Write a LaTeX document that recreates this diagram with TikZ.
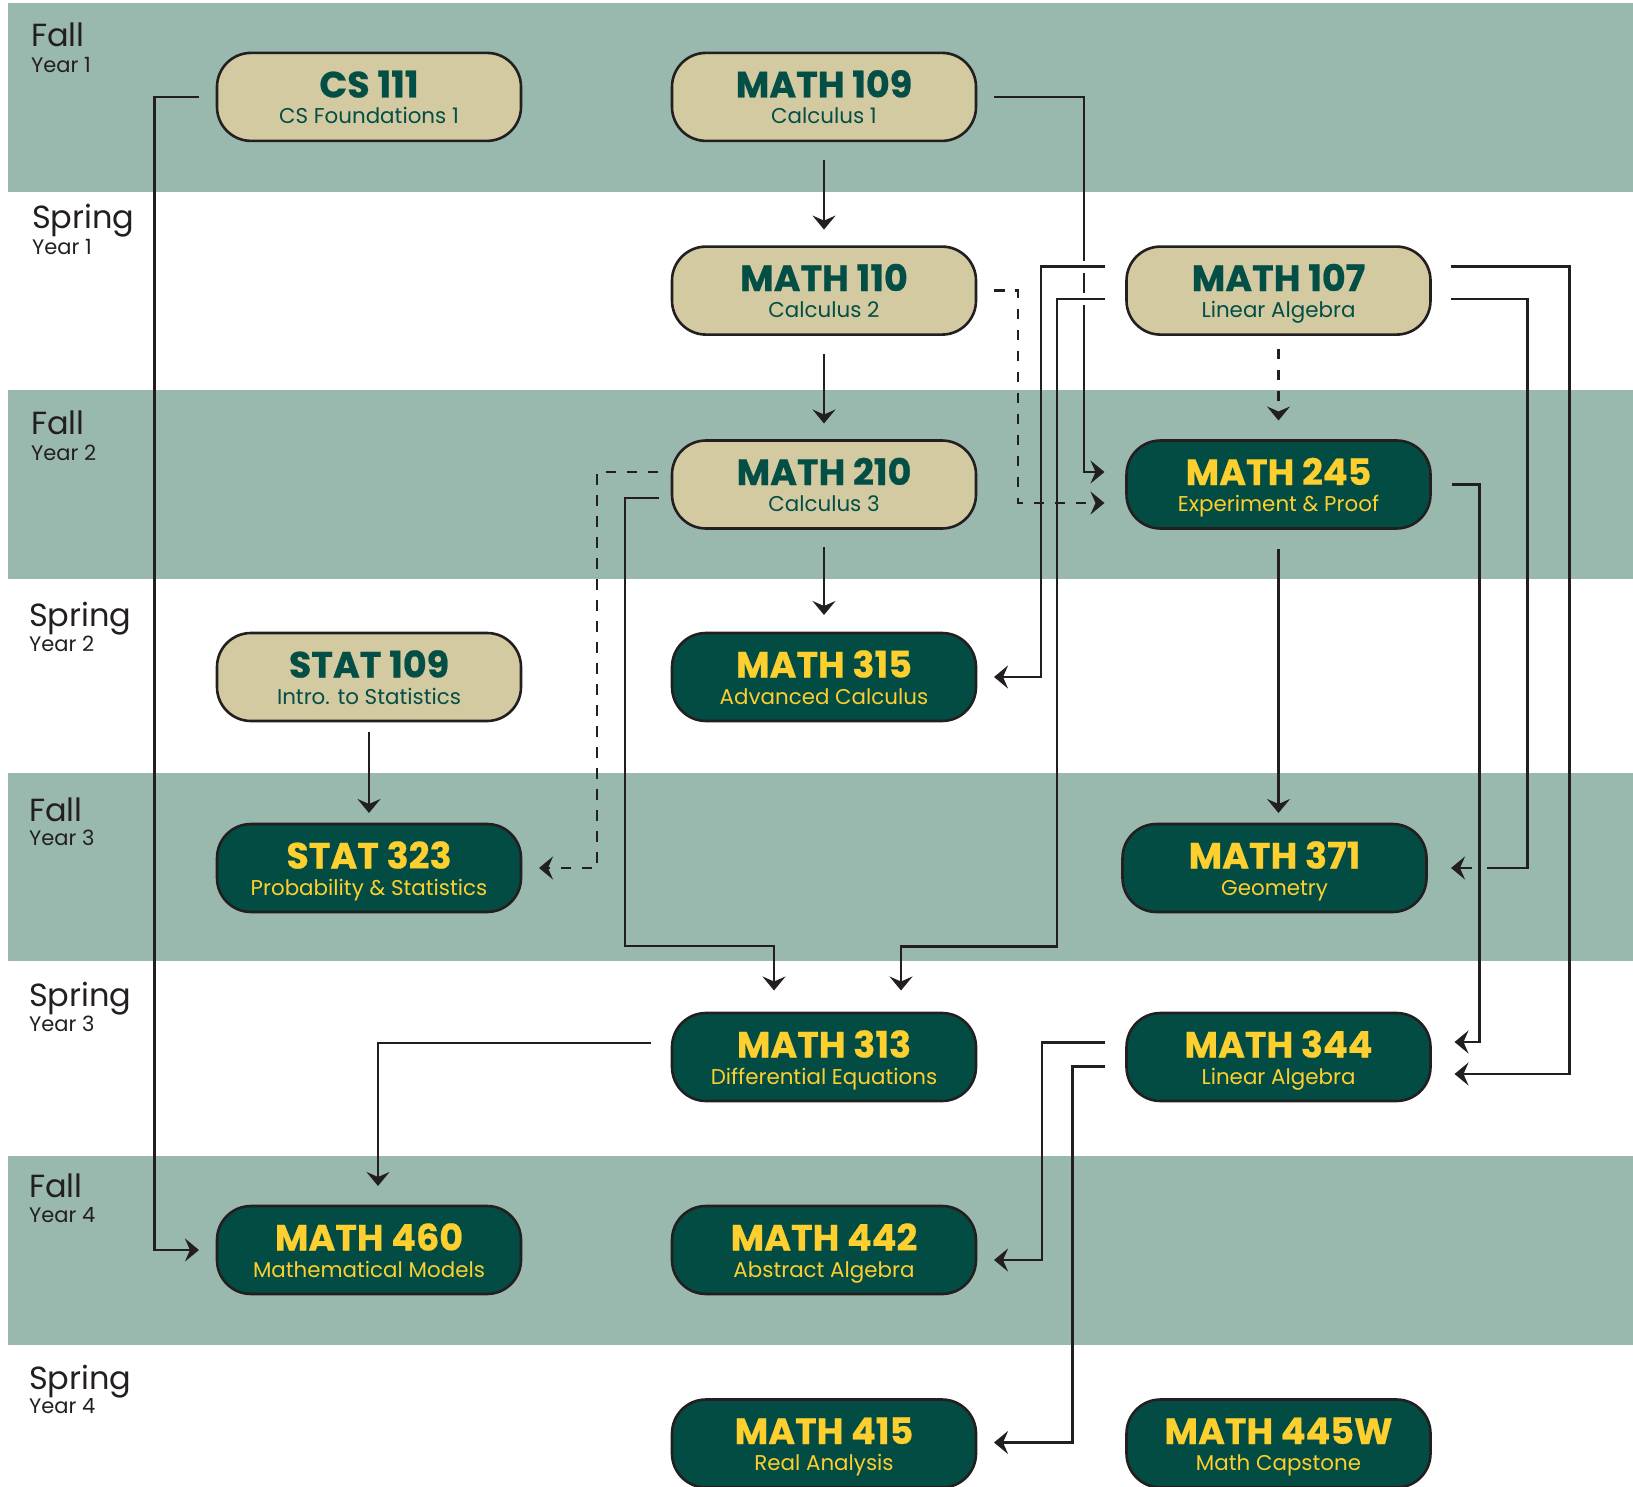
\documentclass[tikz,border=0pt]{standalone}
\usepackage{fontspec}
\setmainfont{Poppins}
\usetikzlibrary{arrows.meta,calc}
\definecolor{band}{HTML}{9AB9AE}
\definecolor{tanfill}{HTML}{D3CAA1}
\definecolor{tealfill}{HTML}{024C44}
\definecolor{tealtext}{HTML}{034E45}
\definecolor{yel}{HTML}{FDCF2F}
\definecolor{ink}{HTML}{231F20}
\newcommand\crs[6]{%
  \node[#2box] (#1) at (#3,#4) {};
  \node[#2ttl] at ($(#1.center)+(0,0.5)$) {#5};
  \node[#2sub] at ($(#1.center)+(0,27)$) {#6};
}
\begin{document}
\begin{tikzpicture}[x=1pt,y=-1pt,
  crsbox/.style={draw=ink, line width=2.6pt, rounded corners=34pt,
    minimum width=304pt, minimum height=88pt, inner sep=0pt, outer sep=0pt},
  lbox/.style={crsbox, fill=tanfill},
  dbox/.style={crsbox, fill=tealfill},
  ttlbase/.style={anchor=base, inner sep=0pt, font=\fontsize{36.5}{40}\selectfont\bfseries\addfontfeatures{FakeBold=0.6}},
  subbase/.style={anchor=base, inner sep=0pt, font=\fontsize{21.4}{24}\selectfont},
  lttl/.style={ttlbase, text=tealtext},
  dttl/.style={ttlbase, text=yel},
  lsub/.style={subbase, text=tealtext},
  dsub/.style={subbase, text=yel},
  season/.style={anchor=base west, inner sep=0pt, text=ink, font=\fontsize{32}{34}\selectfont},
  yr/.style={anchor=base west, inner sep=0pt, text=ink, font=\fontsize{21}{23}\selectfont},
  conn/.style={draw=ink, line width=2.4pt, -{Stealth[length=14pt,width=23pt,inset=5pt]}},
  dconn/.style={conn, dash pattern=on 10.5pt off 10.5pt},
]
\useasboundingbox (0,0) rectangle (1633,1487);
\fill[white] (0,0) rectangle (1633,1487);
% bands
\fill[band] (8,3) rectangle (1633,192);
\fill[band] (8,390) rectangle (1633,579);
\fill[band] (8,773) rectangle (1633,961);
\fill[band] (8,1156) rectangle (1633,1345);
% labels
\node[season] (sf1) at (31,46.5) {Fall};
\node[yr] (yf1) at (31,72.5) {Year 1};
\node[season] (ss1) at (32,229) {Spring};
\node[yr] (ys1) at (32,254.5) {Year 1};
\node[season] (sf2) at (31,435) {Fall};
\node[yr] (yf2) at (31,460) {Year 2};
\node[season] (ss2) at (29,626.5) {Spring};
\node[yr] (ys2) at (29,651.5) {Year 2};
\node[season] (sf3) at (29,821) {Fall};
\node[yr] (yf3) at (29,845.5) {Year 3};
\node[season] (ss3) at (29,1006.5) {Spring};
\node[yr] (ys3) at (29,1031.5) {Year 3};
\node[season] (sf4) at (29,1197) {Fall};
\node[yr] (yf4) at (29,1222) {Year 4};
\node[season] (ss4) at (29,1389) {Spring};
\node[yr] (ys4) at (29,1413) {Year 4};
% courses
\crs{cs111}{l}{369}{96.9}{CS 111}{CS Foundations 1}
\crs{m109}{l}{824}{96.9}{MATH 109}{Calculus 1}
\crs{m110}{l}{824}{290.6}{MATH 110}{Calculus 2}
\crs{m107}{l}{1278.5}{290.6}{MATH 107}{Linear Algebra}
\crs{m210}{l}{824}{484.5}{MATH 210}{Calculus 3}
\crs{m245}{d}{1278.5}{484.5}{MATH 245}{Experiment \& Proof}
\crs{stat109}{l}{369}{677}{STAT 109}{Intro. to Statistics}
\crs{m315}{d}{824}{677}{MATH 315}{Advanced Calculus}
\crs{stat323}{d}{369}{868}{STAT 323}{Probability \& Statistics}
\crs{m371}{d}{1274.5}{868}{MATH 371}{Geometry}
\crs{m313}{d}{824}{1057}{MATH 313}{Differential Equations}
\crs{m344}{d}{1278.5}{1057}{MATH 344}{Linear Algebra}
\crs{m460}{d}{369}{1250}{MATH 460}{Mathematical Models}
\crs{m442}{d}{824}{1250}{MATH 442}{Abstract Algebra}
\crs{m415}{d}{824}{1443.5}{MATH 415}{Real Analysis}
\crs{m445}{d}{1278.5}{1443.5}{MATH 445W}{Math Capstone}
% connectors
\draw[conn] ($(cs111.west)+(-18,0)$) -- ++(-44.5,0) |- ($(m460.west)+(-18,0)$);
\draw[conn] ($(m109.south)+(0,19)$) -- ($(m110.north)+(0,-17)$);
\draw[conn] ($(m110.south)+(0,19)$) -- ($(m210.north)+(0,-17)$);
\draw[conn] ($(m210.south)+(0,18)$) -- ($(m315.north)+(0,-18)$);
\draw[conn] ($(stat109.south)+(0,11)$) -- ($(stat323.north)+(0,-11)$);
\draw[conn] ($(m245.south)+(0,20)$) -- ($(m245.south |- m371.north)+(0,-11)$);
\draw[dconn] ($(m107.south)+(0,14)$) -- ($(m245.north)+(0,-20)$);
\draw[dconn] ($(m110.east)+(18,0)$) -| ($(m245.west)+(-108.5,18.5)$) -- ($(m245.west)+(-22,18.5)$);
\draw[conn] ($(m210.west)+(-13,13.5)$) -| ($(m313.north)+(-199,-67)$) -| ($(m313.north)+(-50,-22.5)$);
\draw[dconn] ($(m210.west)+(-14,-12.5)$) -| ($(stat323.east)+(76,0)$) -- ($(stat323.east)+(18,0)$);
\draw[conn] ($(m313.west)+(-21,-14)$) -| ($(m460.north)+(9,-20)$);
\draw[conn] ($(m344.west)+(-22,-14.5)$) -| ($(m442.east)+(66,10)$) -- ($(m442.east)+(18,10)$);
\draw[conn] ($(m344.west)+(-22,9.5)$) -| ($(m415.east)+(96.5,-1)$) -- ($(m415.east)+(18,-1)$);
\draw[conn] ($(m107.east)+(20,-24)$) -| ($(m344.east)+(139,17)$) -- ($(m344.east)+(24,17)$);
% MATH 109 -> MATH 245, broken where crossed
\coordinate (x3) at ($(m245.west)+(-42.5,0)$);
\coordinate (h7) at ($(m107.west)+(-22,-24)$);
\coordinate (h8) at ($(m107.west)+(-22,8.5)$);
\draw[conn] ($(m109.east)+(18,0)$) -| ($(x3)+(0,-12.5)$) -- ($(m245.west)+(-22,-12.5)$);
\draw[white, line width=5pt] ($(x3 |- h7)+(0,-6)$) -- ($(x3 |- h7)+(0,6)$);
\draw[white, line width=5pt] ($(x3 |- h8)+(0,-6)$) -- ($(x3 |- h8)+(0,6)$);
\draw[conn] (h7) -| ($(m315.east)+(65,0)$) -- ($(m315.east)+(18,0)$);
\draw[conn] (h8) -| ($(m313.north)+(233,-66.5)$) -| ($(m313.north)+(77,-22.5)$);
% MATH 107 -> MATH 371, broken where crossed
\coordinate (h15) at ($(m107.east)+(20,8.5)$);
\coordinate (x14) at ($(m344.east)+(49,0)$);
\draw[conn] (h15) -| ($(m371.east)+(101,0)$) -- ($(m371.east)+(24.5,0)$);
\draw[band, line width=5pt] ($(x14 |- m371.east)+(-7.5,0)$) -- ($(x14 |- m371.east)+(7.5,0)$);
\draw[conn] ($(m245.east)+(21.5,0)$) -| ($(x14)+(0,-15)$) -- ($(m344.east)+(24,-15)$);
\end{tikzpicture}
\end{document}
